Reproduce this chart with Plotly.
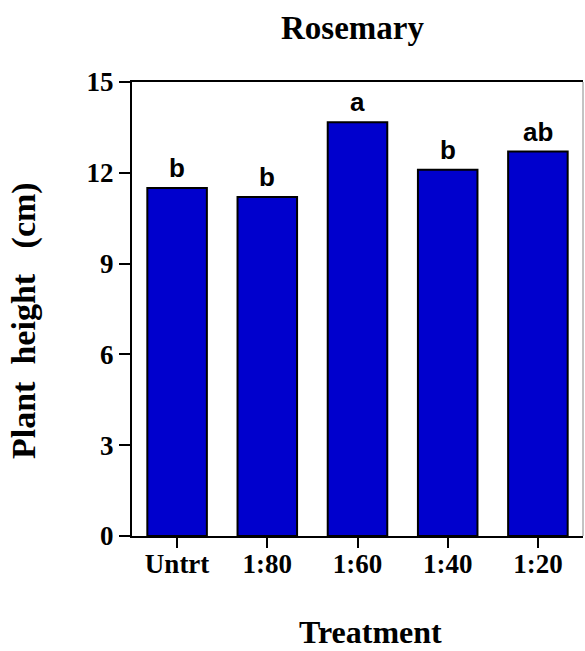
import plotly.graph_objects as go

categories = ["Untrt", "1:80", "1:60", "1:40", "1:20"]
heights = [11.5, 11.2, 13.67, 12.1, 12.7]
letters = ["b", "b", "a", "b", "ab"]
y_ticks = [0, 3, 6, 9, 12, 15]

W, H = 585, 651
L, R, T, B = 132, 583, 82, 536

def px(x):
    return (x - L) / (R - L)

def py(y):
    return (B - y) / (B - T)

serif = "Liberation Serif, Times New Roman, serif"
sans = "Liberation Sans, Arial, sans-serif"

fig = go.Figure()
fig.add_trace(go.Bar(
    x=categories, y=heights,
    marker=dict(color="#0000CD", line=dict(color="black", width=2)),
    width=0.66,
))

annotations = []
for c, v, t in zip(categories, heights, letters):
    annotations.append(dict(x=c, y=v, text="<b>%s</b>" % t, xref="x", yref="y",
                            showarrow=False, xanchor="center", yanchor="bottom", yshift=3,
                            font=dict(family=sans, size=26, color="black")))
annotations.append(dict(x=px(352), y=py(28), xref="paper", yref="paper",
                        text="<b>Rosemary</b>", showarrow=False,
                        xanchor="center", yanchor="middle",
                        font=dict(family=serif, size=33, color="black")))
annotations.append(dict(x=px(370), y=py(632), xref="paper", yref="paper",
                        text="<b>Treatment</b>", showarrow=False,
                        xanchor="center", yanchor="middle",
                        font=dict(family=serif, size=32, color="black")))
annotations.append(dict(x=px(24), y=py(321), xref="paper", yref="paper",
                        text="<b>Plant&nbsp;&nbsp;height&nbsp;&nbsp;&nbsp;(cm)</b>", showarrow=False, textangle=-90,
                        xanchor="center", yanchor="middle",
                        font=dict(family=serif, size=34, color="black")))

fig.update_layout(
    template="none",
    width=W, height=H,
    margin=dict(l=L, r=W - R, t=T, b=H - B, pad=0),
    plot_bgcolor="white", paper_bgcolor="white",
    showlegend=False,
    annotations=annotations,
    shapes=[dict(type="line", xref="paper", yref="paper", x0=1, x1=1, y0=0, y1=1,
                 line=dict(color="#888888", width=1))],
)
fig.update_xaxes(
    range=[-0.5, 4.5], showline=True, linecolor="black", linewidth=2,
    mirror=True, ticks="outside", ticklen=10, tickwidth=2, tickcolor="black",
    showgrid=False, zeroline=False, automargin=False, ticklabelstandoff=-7,
    tickfont=dict(family=serif, size=27, color="black"),
    tickvals=categories, ticktext=["<b>%s</b>" % c for c in categories],
)
fig.update_yaxes(
    range=[0, 15], showline=True, linecolor="black", linewidth=2,
    ticks="outside", ticklen=11, tickwidth=2, tickcolor="black",
    showgrid=False, zeroline=False, automargin=False,
    tickvals=y_ticks, ticktext=["<b>%d</b>" % v for v in y_ticks],
    tickfont=dict(family=serif, size=27, color="black"),
)

fig.write_html("out.html", config={"displayModeBar": False},
               post_script="document.body.style.margin='0px';")
